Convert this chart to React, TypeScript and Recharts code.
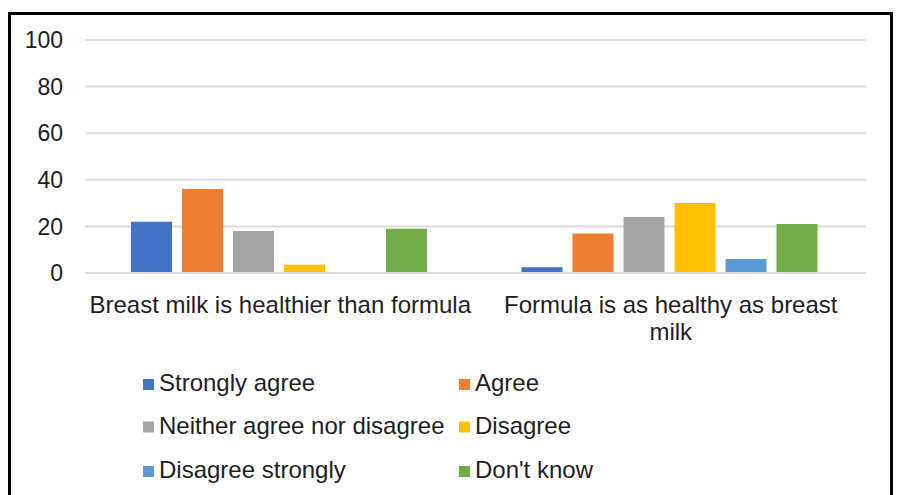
import React from "react";
import { BarChart, Bar, XAxis, YAxis, CartesianGrid, Legend } from "recharts";

const categories = [
  "Breast milk is healthier than formula",
  "Formula is as healthy as breast milk",
];
const categoryLabelLines = [
  ["Breast milk is healthier than formula"],
  ["Formula is as healthy as breast", "milk"],
];
const stronglyAgree = [22, 2.5];
const agree = [36, 17];
const neither = [18, 24];
const disagree = [3.5, 30];
const disagreeStrongly = [0, 6];
const dontKnow = [19, 21];
const yTicks = [0, 20, 40, 60, 80, 100];

const seriesNames = [
  "Strongly agree",
  "Agree",
  "Neither agree nor disagree",
  "Disagree",
  "Disagree strongly",
  "Don't know",
];
const seriesKeys = ["sa", "a", "n", "d", "ds", "dk"];
const seriesColors = ["#4472C4", "#ED7D31", "#A5A5A5", "#FFC000", "#5B9BD5", "#70AD47"];
const seriesValues = [stronglyAgree, agree, neither, disagree, disagreeStrongly, dontKnow];

const data = categories.map((c, i) => {
  const row: any = { name: c, idx: i };
  seriesKeys.forEach((k, j) => {
    row[k] = seriesValues[j][i];
  });
  return row;
});

const FONT = "'Liberation Sans', Arial, sans-serif";
const TEXT = "#1e1e1e";

const CategoryTick = (props: any) => {
  const { x, y, index } = props;
  const lines = categoryLabelLines[index] || [];
  return (
    <text x={x} y={y} textAnchor="middle" fontFamily={FONT} fontSize={24} fill={TEXT}>
      {lines.map((l, i) => (
        <tspan key={i} x={x} dy={i === 0 ? 40 : 27}>
          {l}
        </tspan>
      ))}
    </text>
  );
};

const LegendContent = (props: any) => {
  const payload = [...(props.payload || [])].sort(
    (p: any, q: any) => seriesNames.indexOf(p.value) - seriesNames.indexOf(q.value)
  );
  const colX = [143, 459];
  const rowBase = [31, 73.5, 118];
  return (
    <svg width={898} height={135} style={{ display: "block" }}>
      {payload.map((p: any, i: number) => {
        const cx = colX[i % 2];
        const by = rowBase[Math.floor(i / 2)];
        return (
          <g key={i}>
            <rect x={cx} y={by - 12} width={11} height={11} fill={p.color} />
            <text x={cx + 16} y={by} fontFamily={FONT} fontSize={24} fill={TEXT}>
              {p.value}
            </text>
          </g>
        );
      })}
    </svg>
  );
};

export default function App() {
  return (
    <div
      style={{
        position: "absolute",
        left: 0,
        top: 0,
        width: 898,
        height: 495,
        overflow: "hidden",
        background: "#fff",
      }}
    >
      <div
        style={{
          position: "absolute",
          left: 8,
          top: 12,
          width: 885,
          height: 600,
          boxSizing: "border-box",
          border: "3px solid #000",
        }}
      />
      <div style={{ position: "absolute", left: 0, top: 0 }}>
        <BarChart
          width={898}
          height={495}
          data={data}
          margin={{ top: 40, right: 32, left: 25, bottom: 152 }}
          barGap={10}
          barCategoryGap={46}
        >
          <CartesianGrid vertical={false} stroke="#dcdcdc" strokeWidth={2} />
          <XAxis
            dataKey="name"
            height={70}
            axisLine={{ stroke: "#dcdcdc", strokeWidth: 2 }}
            tickLine={false}
            tickSize={0}
            tickMargin={0}
            interval={0}
            tick={<CategoryTick />}
          />
          <YAxis
            domain={[0, 100]}
            ticks={yTicks}
            width={60}
            axisLine={false}
            tickLine={false}
            tickSize={0}
            tickMargin={22}
            tick={{ fontFamily: FONT, fontSize: 23, fill: TEXT }}
          />
          <Legend
            layout="vertical"
            align="center"
            verticalAlign="middle"
            wrapperStyle={{ left: 0, top: 360, width: 898, height: 135 }}
            content={<LegendContent />}
          />
          {seriesKeys.map((k, j) => (
            <Bar
              key={k}
              dataKey={k}
              name={seriesNames[j]}
              fill={seriesColors[j]}
              isAnimationActive={false}
            />
          ))}
        </BarChart>
      </div>
    </div>
  );
}
